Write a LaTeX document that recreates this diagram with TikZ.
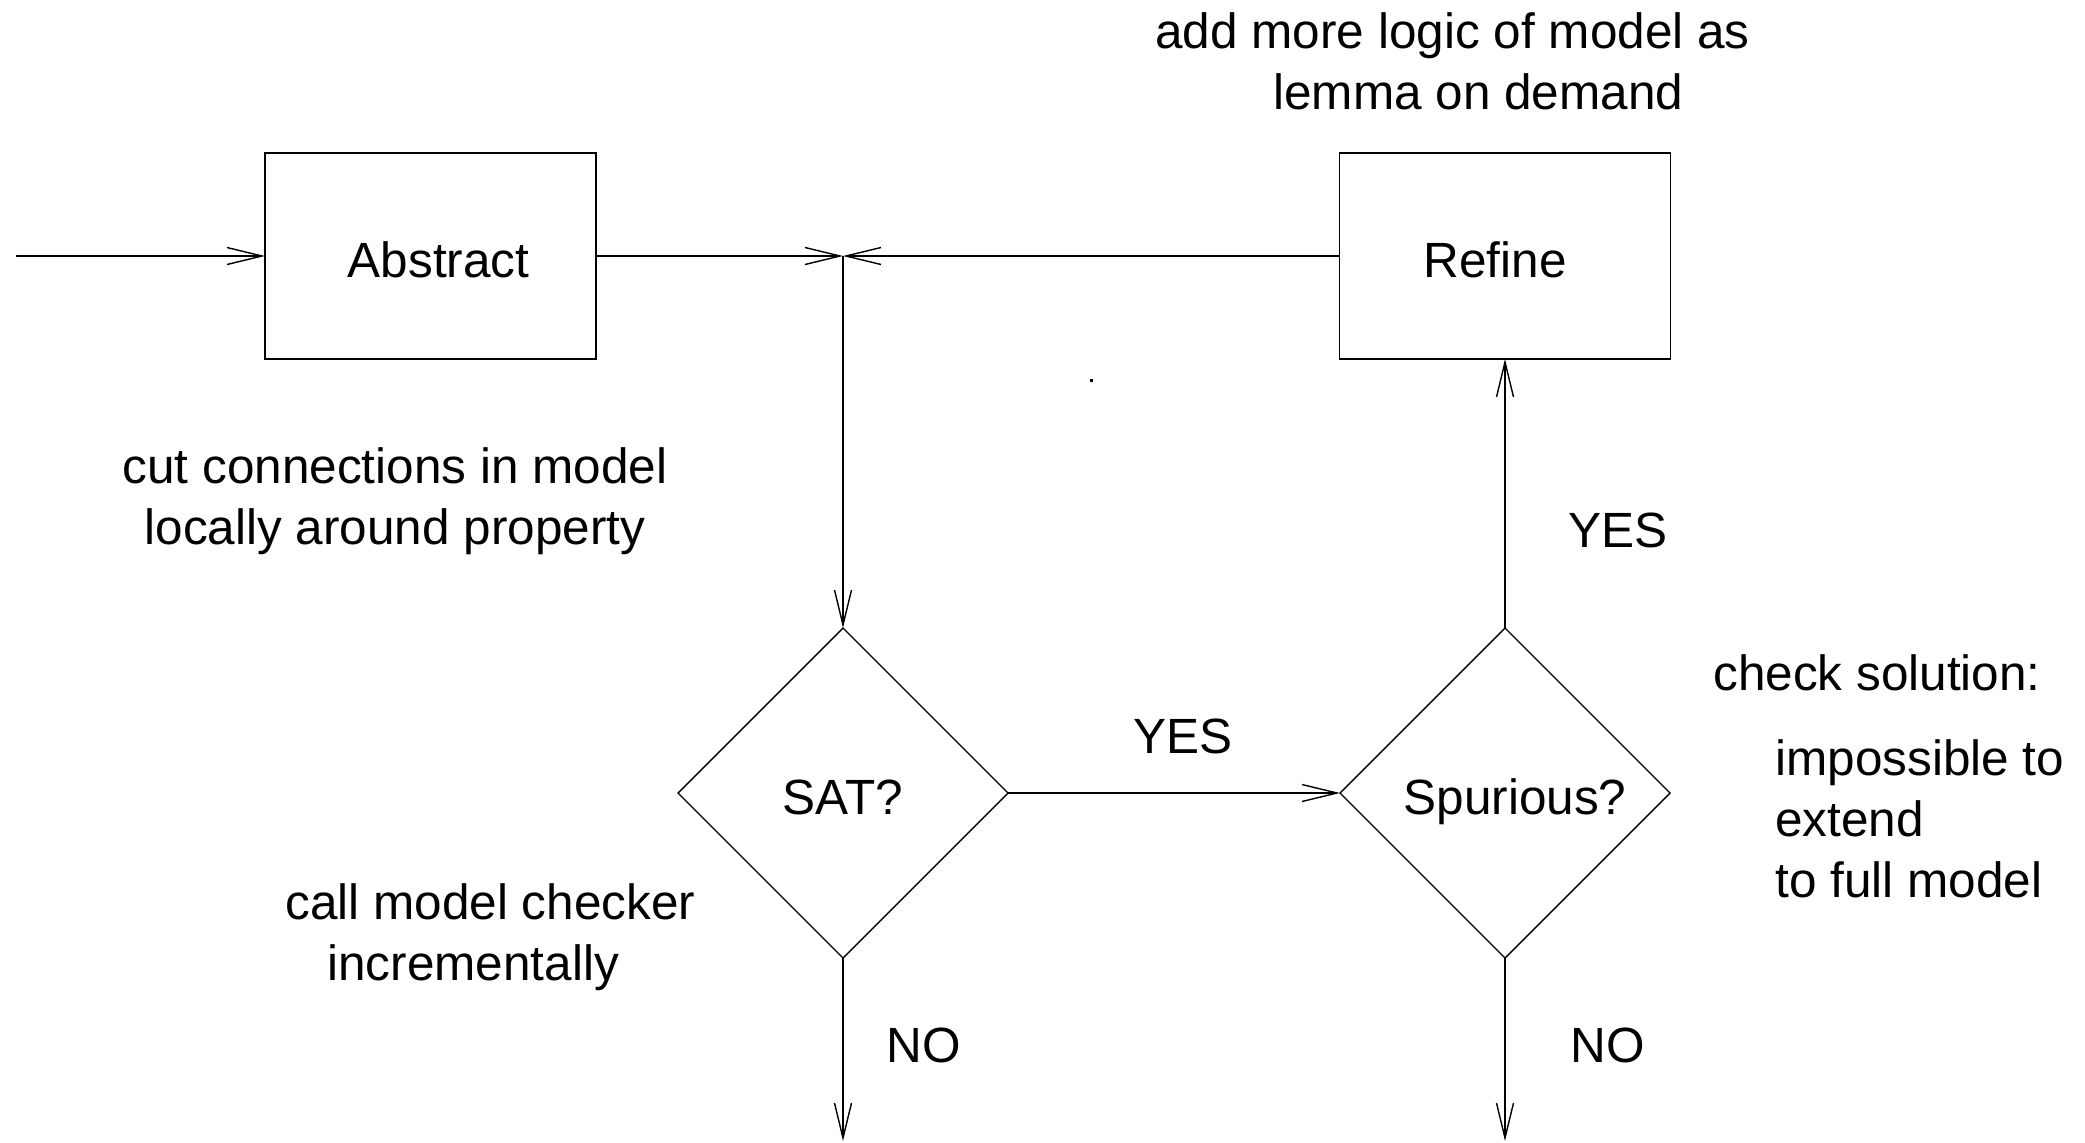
\documentclass[tikz,border=0pt]{standalone}
\usepackage{fontspec}
\setmainfont{Liberation Sans}
\usetikzlibrary{shapes.geometric,arrows.meta}
\begin{document}
\begin{tikzpicture}[x=0.5pt,y=-0.5pt,
  every node/.style={font=\fontsize{24.75pt}{30.5pt}\selectfont},
  box/.style={draw, line width=0.7pt, minimum width=165.5pt, minimum height=103pt,
    inner sep=0pt, outer sep=0pt, text height=21.8pt, text depth=0pt},
  decision/.style={draw, diamond, aspect=1, line width=0.7pt, minimum width=165pt,
    minimum height=165pt, inner sep=0pt, outer sep=0pt, text height=21.8pt, text depth=0pt},
  note/.style={anchor=base west, inner sep=0pt},
  cnote/.style={anchor=base, inner sep=0pt},
  flow/.style={line width=0.7pt, -{Straight Barb[length=17.5pt,width=8.5pt]}}]
\useasboundingbox (0,0) rectangle (2085,1142);

% process boxes and decisions
\node[box] (abs) at (430.5,256) {\hspace*{8pt}Abstract};
\node[box] (ref) at (1505,256) {Refine\hspace*{10pt}};
\node[decision] (sat) at (843,793) {SAT?};
\node[decision] (spu) at (1505,793) {\hspace*{10pt}Spurious?};

% free ends and the merge point
\coordinate (in) at (16,256);
\coordinate (join) at (843,256);
\coordinate (satno) at (843,1141);
\coordinate (spuno) at (1505,1141);

% connectors
\draw[flow] (in) -- (abs.west);
\draw[flow] (abs.east) -- (join);
\draw[flow] (ref.west) -- (join);
\draw[flow] (join) -- (sat.north);
\draw[flow] (sat.east) -- (spu.west);
\draw[flow] (spu.north) -- (ref.south);
\draw[flow] (sat.south) -- (satno);
\draw[flow] (spu.south) -- (spuno);

% branch labels
\node[note] (yesup) at (1568,547) {YES};
\node[note] (yesmid) at (1133,753) {YES};
\node[note] (nosat) at (886,1062) {NO};
\node[note] (nospu) at (1570,1062) {NO};

% annotations
\node[note] (ref1) at (1155,48) {add more logic of model as};
\node[note] (ref2) at (1273,109) {lemma on demand};
\node[cnote] (abs1) at (395,483) {cut connections in model};
\node[cnote] (abs2) at (395,544) {locally around property};
\node[note] (sat1) at (285,919) {call model checker};
\node[note] (sat2) at (327,980) {incrementally};
\node[note] (spu1) at (1713,690) {check solution:};
\node[note] (spu2) at (1775,775) {impossible to};
\node[note] (spu3) at (1775,836) {extend};
\node[note] (spu4) at (1775,897) {to full model};

% stray point
\fill (1090,379) rectangle (1093,382);
\end{tikzpicture}
\end{document}
